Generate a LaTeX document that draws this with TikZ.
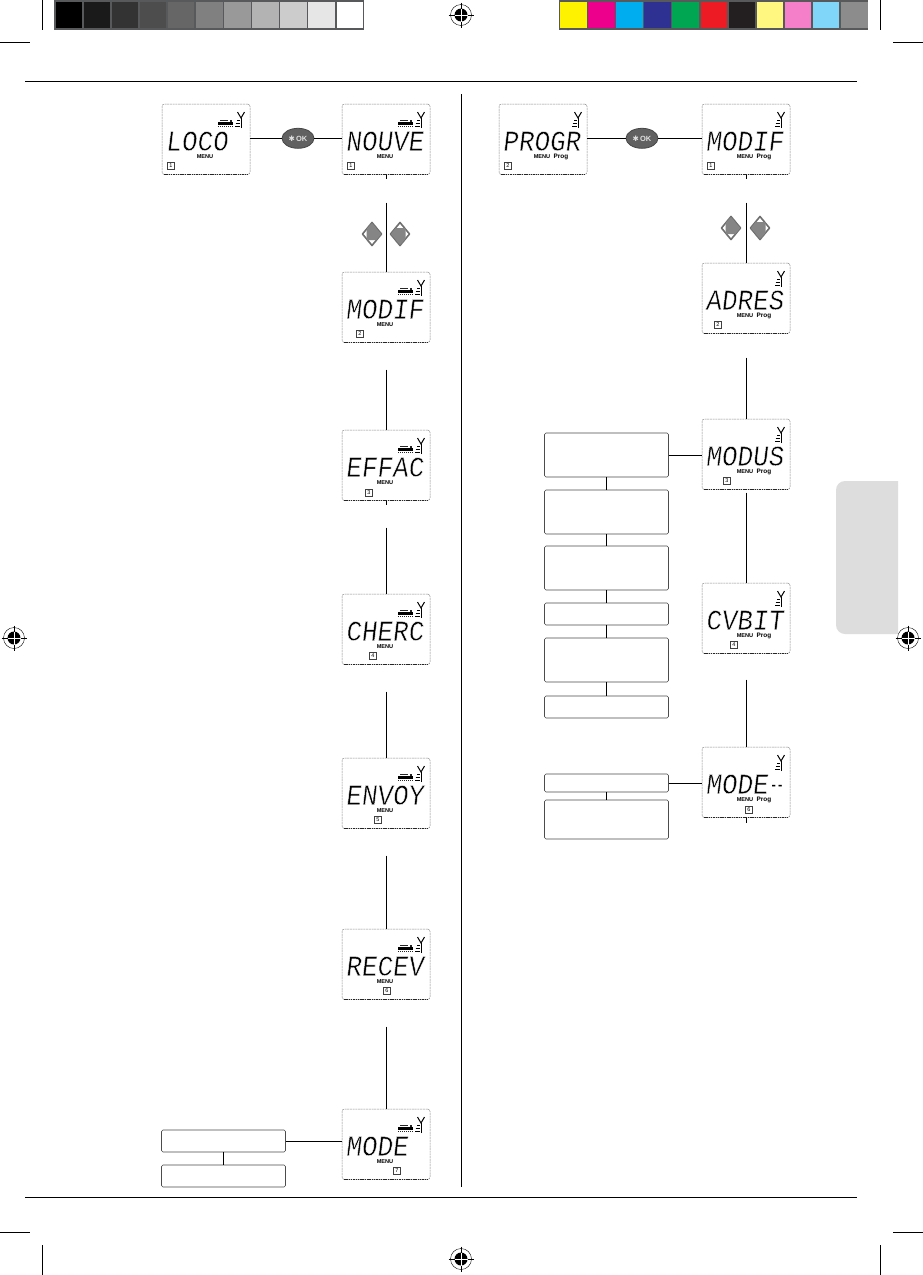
\documentclass[tikz,border=0pt]{standalone}
\usepackage{fontspec}
\setmainfont{Liberation Sans}
\newfontfamily\lcdfont[FakeSlant=0.12,FakeStretch=0.91]{Liberation Mono}
\newfontfamily\symfont{DejaVu Sans}
\definecolor{barbg}{HTML}{58595B}
\definecolor{tabgray}{HTML}{DDDDDD}
\definecolor{keyline}{HTML}{6E6E6E}
\definecolor{keygray}{HTML}{858585}
\newcommand{\thinlcd}[1]{\special{pdf:code q 2 Tr 0.45 w 1 1 1 RG}#1\special{pdf:code Q}}
\tikzset{
  conn/.style={draw=black,line width=0.8pt},
  rule/.style={draw=black,line width=0.8pt},
  crop/.style={draw=black,line width=0.5pt},
  panel/.style={rectangle,rounded corners=2.5pt,draw=black!45,line width=0.5pt,dash pattern=on 2pt off 0.7pt,
    minimum width=88pt,minimum height=70.5pt,inner sep=0pt,outer sep=0pt,anchor=north west},
  panelbase/.style={draw=black!85,line width=0.7pt,dash pattern=on 1.5pt off 0.8pt},
  lcdtext/.style={anchor=base west,inner sep=0pt,outer sep=0pt,text=black,font=\lcdfont\fontsize{28.5}{28.5}\selectfont},
  menulabel/.style={inner sep=0pt,outer sep=0pt,text=black,font=\bfseries\fontsize{5.6}{6}\selectfont},
  proglabel/.style={inner sep=0pt,outer sep=0pt,text=black,font=\bfseries\fontsize{6.4}{7}\selectfont},
  idxbox/.style={draw=black!75,line width=0.45pt,minimum size=7pt,inner sep=0pt,outer sep=0pt,font=\fontsize{5.5}{5.5}\selectfont},
  textbox/.style={rectangle,rounded corners=1.5pt,draw=black!70,line width=0.6pt,minimum width=124pt,inner sep=0pt,outer sep=0pt,anchor=north west},
  okbtn/.style={ellipse,fill=black!62,draw=black!72,line width=0.8pt,minimum width=32pt,minimum height=20pt,inner sep=0pt,outer sep=0pt,text=black!12,font=\bfseries\fontsize{7.5}{8}\selectfont},
  keyshape/.style={fill=white,draw=keyline,line width=1.6pt,line join=round},
  keyfill/.style={fill=keygray},
  antenna/.style={draw=black,line width=1pt}
}
\usetikzlibrary{shapes.geometric}
\newcommand{\lcdpanel}[7]{% name x y text idxx idxy digit
  \begin{scope}[shift={(#2,#3)}]
    \node[panel] (#1) at (0,0) {};
    \draw[panelbase] ([xshift=2pt]#1.south west) -- ([xshift=-2pt]#1.south east);
    \node[lcdtext] (#1-lcd) at (3.5,46.5) {\thinlcd{#4}};
    \node[idxbox] (#1-idx) at (#5,#6) {#7};
    \draw[antenna] (79,24) -- (79,13.5);
    \draw[antenna] (75.5,8) -- (79,14) -- (82.5,8);
    \draw[black,line width=1pt] (75,16) -- (78,16) (73.5,19.3) -- (78,19.3) (73,22.6) -- (78,22.6);
  \end{scope}}
\newcommand{\trainicon}[2]{%
  \begin{scope}[shift={(#1,#2)}]
    \fill[black!85] (57.5,15.5) rectangle (66,17.3);
    \fill[black] (56,18.2) rectangle (71,20.8);
    \draw[black!85,line width=1.3pt,dash pattern=on 1.4pt off 0.6pt] (56,22.3) -- (71,22.3);
    \fill[black!85] (68,16) rectangle (70,18.2);
  \end{scope}}
\newcommand{\locopanel}[7]{%
  \lcdpanel{#1}{#2}{#3}{#4}{#5}{#6}{#7}
  \trainicon{#2}{#3}
  \begin{scope}[shift={(#2,#3)}]
    \node[menulabel] (#1-menu) at (43,53) {MENU};
  \end{scope}}
\newcommand{\progpanel}[7]{%
  \lcdpanel{#1}{#2}{#3}{#4}{#5}{#6}{#7}
  \begin{scope}[shift={(#2,#3)}]
    \node[menulabel] (#1-menu) at (43,53) {MENU};
    \node[proglabel] (#1-prog) at (62,53) {Prog};
  \end{scope}}
\newcommand{\regmark}[2]{%
  \begin{scope}[shift={(#1,#2)}]
    \draw[black,line width=0.4pt] (0,0) circle (10.5pt);
    \fill[black] (0,0) circle (6.5pt);
    \draw[white,line width=0.9pt] (-6.5,0) -- (6.5,0) (0,-6.5) -- (0,6.5);
    \draw[black,line width=0.5pt] (-12.5,0) -- (-6.5,0) (6.5,0) -- (12.5,0) (0,-12.5) -- (0,-6.5) (0,6.5) -- (0,12.5);
  \end{scope}}
\newcommand{\keypair}[3]{% xleft, xright, y
  \draw[keyshape,shift={(#1,#3)}] (-9.5,0) -- (0,-11.5) -- (9.5,0) -- (0,11.5) -- cycle;
  \fill[keyfill,shift={(#1,#3)}] (-5.5,-5) -- (0,-11) -- (9,0) -- (4.5,6) -- (-5.5,6) -- cycle;
  \draw[keyshape,shift={(#2,#3)}] (-9.5,0) -- (0,-11.5) -- (9.5,0) -- (0,11.5) -- cycle;
  \fill[keyfill,shift={(#2,#3)}] (5.5,5) -- (0,11) -- (-9,0) -- (-4.5,-6) -- (5.5,-6) -- cycle;}
\begin{document}
\begin{tikzpicture}[x=1pt,y=-1pt]
\useasboundingbox (0,0) rectangle (923,1275);
\fill[white] (0,0) rectangle (923,1275);
% printer's colour bars
\fill[barbg] (54,0) rectangle (363.5,30);
\fill[barbg] (558.5,0) rectangle (868,30);
\foreach \c [count=\i from 0] in {000000,1A1A1A,333333,4D4D4D,666666,808080,999999,B3B3B3,CCCCCC,E6E6E6,FFFFFF}{
  \definecolor{patch}{HTML}{\c}
  \fill[patch] ({55.5+28.1*\i},2) rectangle ({82+28.1*\i},28);
}
\foreach \c [count=\i from 0] in {FFF200,EC008C,00AEEF,2E3192,00A651,ED1C24,231F20,FFF77F,F57FC8,7FD6F9,8C8C8C}{
  \definecolor{patch}{HTML}{\c}
  \fill[patch] ({560+28.1*\i},2) rectangle ({586.5+28.1*\i},28);
}
% crop marks
\draw[crop] (42,0) -- (42,30) (880,0) -- (880,30) (0,42) -- (30,42) (893,42) -- (923,42);
\draw[crop] (0,1232) -- (30,1232) (893,1232) -- (923,1232) (42,1245) -- (42,1275) (880,1245) -- (880,1275);
\regmark{461}{15}\regmark{14}{638}\regmark{908}{638}\regmark{461}{1259}
% page rules and side tab
\draw[rule] (25,81) -- (857,81) (25,1197) -- (857,1197);
\draw[rule] (461,94) -- (461,1187);
\fill[tabgray] (898,481) [rounded corners=9pt] -- (836,481) -- (836,634) [sharp corners] -- (898,634) -- cycle;
% left column
\locopanel{loco}{162}{104}{LOCO}{9}{62}{1}
\locopanel{nouve}{342}{104}{NOUVE}{9}{62}{1}
\locopanel{lmodif}{342}{272}{MODIF}{18}{62}{2}
\locopanel{effac}{342}{430}{EFFAC}{27}{63}{3}
\locopanel{cherc}{342}{594}{CHERC}{31}{62}{4}
\locopanel{envoy}{342}{758}{ENVOY}{36}{62}{5}
\locopanel{recev}{342}{929}{RECEV}{45}{62}{6}
\locopanel{lmode}{342}{1109}{MODE}{55}{62}{7}
% right column
\progpanel{progr}{499}{104}{PROGR}{9}{62}{2}
\progpanel{rmodif}{702}{104}{MODIF}{9}{62}{1}
\progpanel{adres}{702}{263}{ADRES}{16}{62}{2}
\progpanel{modus}{702}{419}{MODUS}{25}{62}{3}
\progpanel{cvbit}{702}{583}{CVBIT}{32}{62}{4}
\progpanel{rmode}{702}{747}{MODE}{47}{63}{6}
\node[anchor=base,inner sep=0pt,text=black,font=\bfseries\fontsize{13}{13}\selectfont] (rmode-dash) at (777,789.5) {-\,-};
% OK buttons
\node[okbtn] (okl) at (298,138.3) {{\symfont ✱}\,OK};
\node[okbtn] (okr) at (642,138.3) {{\symfont ✱}\,OK};
\draw[conn] (loco.east |- okl) -- (okl) -- (nouve.west |- okl);
\draw[conn] (progr.east |- okr) -- (okr) -- (rmodif.west |- okr);
% vertical flow, left
\draw[conn] (nouve.south) -- ++(0,4);
\coordinate (lgap1) at ([yshift=-28pt]nouve.south);
\draw[conn] (lgap1) -- (lmodif.north);
\draw[conn] ([yshift=-27pt]lmodif.south) -- (effac.north);
\draw[conn] (effac.south) -- ++(0,4);
\draw[conn] ([yshift=-27pt]effac.south) -- (cherc.north);
\draw[conn] ([yshift=-27pt]cherc.south) -- (envoy.north);
\draw[conn] ([yshift=-27pt]envoy.south) -- (recev.north);
\draw[conn] ([yshift=-27pt]recev.south) -- (lmode.north);
% vertical flow, right
\draw[conn] (rmodif.south) -- ++(0,4);
\draw[conn] ([yshift=-28pt]rmodif.south) -- (adres.north);
\draw[conn] ([yshift=-24pt]adres.south) -- (modus.north);
\draw[conn] ([yshift=-3pt]modus.south) -- (cvbit.north);
\draw[conn] ([yshift=-26pt]cvbit.south) -- (rmode.north);
\draw[conn] (rmode.south) -- ++(0,5);
% arrow keys
\keypair{372}{400}{234}
\keypair{731}{760}{228}
% text boxes, right
\node[textbox,minimum height=44pt] (b1) at (544.5,433) {};
\node[textbox,minimum height=44pt] (b2) at (544.5,490) {};
\node[textbox,minimum height=44pt] (b3) at (544.5,546) {};
\node[textbox,minimum height=22pt] (b4) at (544.5,603) {};
\node[textbox,minimum height=44pt] (b5) at (544.5,638) {};
\node[textbox,minimum height=22pt] (b6) at (544.5,696) {};
\draw[conn] (b1) -- (b2) (b2) -- (b3) (b3) -- (b4) (b4) -- (b5) (b5) -- (b6);
\draw[conn] (b1.east) -- (modus.west |- b1.east);
\node[textbox,minimum height=18pt] (b7) at (544.5,774) {};
\node[textbox,minimum height=39pt] (b8) at (544.5,800) {};
\draw[conn] (b7) -- (b8);
\draw[conn] (b7.east) -- (rmode.west |- b7.east);
% text boxes, left
\node[textbox,minimum height=22pt] (c1) at (161.5,1130) {};
\node[textbox,minimum height=22pt] (c2) at (161.5,1165) {};
\draw[conn] (c1) -- (c2);
\draw[conn] (c1.east) -- (lmode.west |- c1.east);
\end{tikzpicture}
\end{document}
